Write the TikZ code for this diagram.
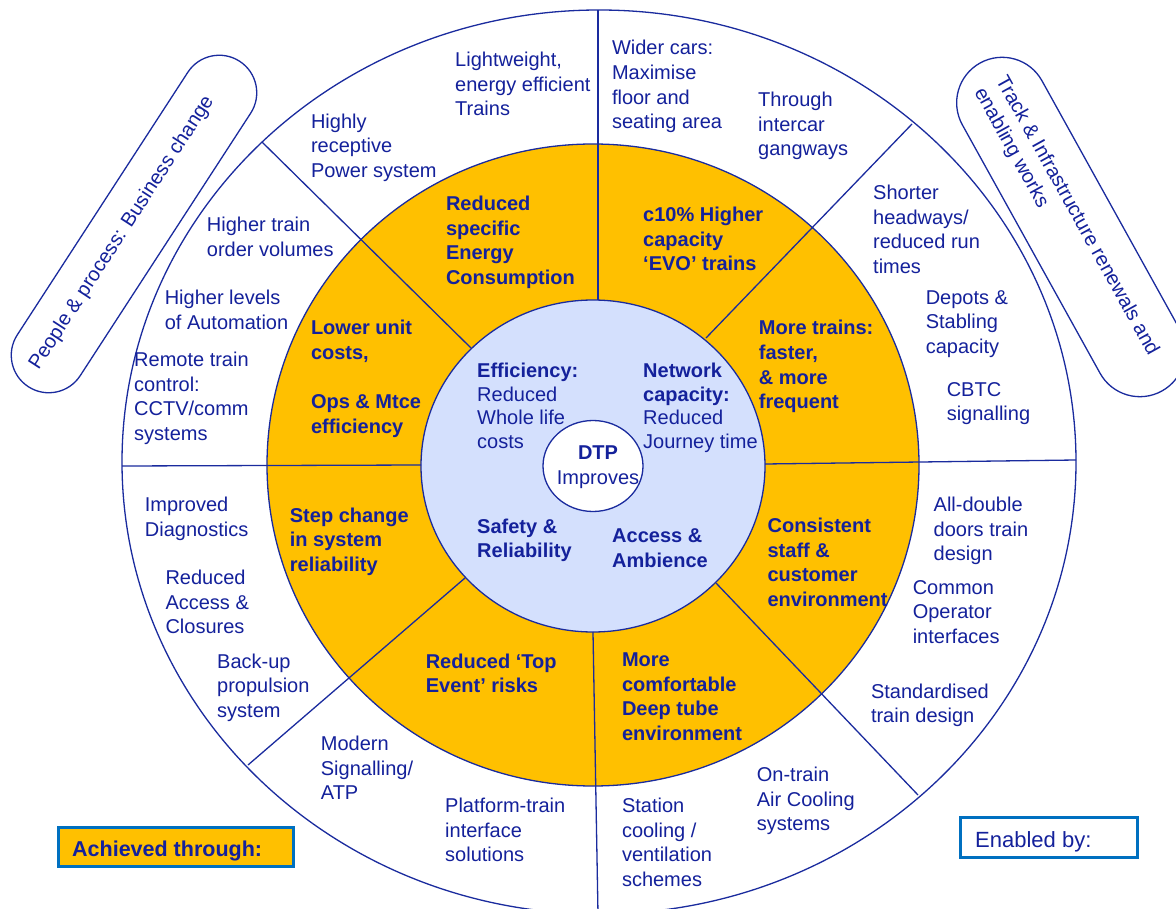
\documentclass[tikz,border=0pt]{standalone}
\usepackage{fontspec}
\setmainfont{Liberation Sans}
\usetikzlibrary{shapes.misc,shapes.geometric}
\definecolor{ringorange}{HTML}{FFC000}
\definecolor{hubblue}{HTML}{D4E0FD}
\definecolor{inkblue}{HTML}{14219B}
\definecolor{rulecol}{HTML}{1A2B9E}
\definecolor{boxblue}{HTML}{0070C0}
\begin{document}
\begin{tikzpicture}[x=1pt,y=-1pt,
  ringline/.style={draw=rulecol, line width=1.3pt},
  note/.style={anchor=north west, inner sep=0pt, align=left, text=inkblue,
    font=\fontsize{20}{24.6}\selectfont},
  keynote/.style={note, font=\fontsize{20}{24.6}\selectfont\bfseries},
  hubnote/.style={note, font=\fontsize{20}{23.8}\selectfont},
  pill/.style={draw=rulecol, line width=1.3pt, rounded rectangle, inner sep=0pt},
  pilltext/.style={inner sep=0pt, align=left, text=inkblue, font=\fontsize{20}{24.6}\selectfont},
  legendbox/.style={draw=boxblue, line width=2.7pt, inner sep=0pt},
]
\useasboundingbox (0,0) rectangle (1176,909);
\clip (0,0) rectangle (1176,909);
\fill[white] (0,0) rectangle (1176,909);

% the three rings of the wheel
\path[ringline, fill=white] (599,462) ellipse [x radius=477, y radius=452];
\path[ringline, fill=ringorange] (593,465) ellipse [x radius=326, y radius=321];
\path[ringline, fill=hubblue] (593,466) ellipse [x radius=172, y radius=166];

% spoke end points: on the hub and on the rim
\coordinate (hubN)  at (598,300);  \coordinate (rimN)  at (598,10);
\coordinate (hubNE) at (706,338);  \coordinate (rimNE) at (912,124);
\coordinate (hubE)  at (765,464);  \coordinate (rimE)  at (1076,460);
\coordinate (hubSE) at (716,583);  \coordinate (rimSE) at (918,795);
\coordinate (hubS)  at (593,632);  \coordinate (rimS)  at (598,914);
\coordinate (hubSW) at (465,578);  \coordinate (rimSW) at (248,765);
\coordinate (hubW)  at (421,465);  \coordinate (rimW)  at (122,466);
\coordinate (hubNW) at (471,348);  \coordinate (rimNW) at (262,142);

\draw[ringline] (hubN) -- (rimN);
\draw[ringline] (hubNE) -- (rimNE);
\draw[ringline] (hubE) -- (rimE);
\draw[ringline] (hubSE) -- (rimSE);
\draw[ringline] (hubS) -- (rimS);
\draw[ringline] (hubSW) -- (rimSW);
\draw[ringline] (hubW) -- (rimW);
\draw[ringline] (hubNW) -- (rimNW);

% centre
\node[draw=rulecol, line width=1.3pt, fill=white, ellipse, inner sep=0pt,
  minimum width=100pt, minimum height=91pt] (dtp) at (593,466) {};
\node[inner sep=0pt, align=center, text=inkblue, anchor=north,
  font=\fontsize{20}{25}\selectfont] (dtptext) at (598,446)
  {\textbf{DTP}\\Improves};

% hub
\node[hubnote] (eff) at (477,362.7) {\textbf{Efficiency:}\\Reduced\\Whole life\\costs};
\node[hubnote] (netcap) at (643,362.7) {\textbf{Network}\\\textbf{capacity:}\\Reduced\\Journey time};
\node[keynote] (safety) at (477,518.7) {Safety \&\\Reliability};
\node[keynote] (access) at (612,528.7) {Access \&\\Ambience};

% benefits ring
\node[keynote] (energy) at (445.8,196) {Reduced\\specific\\Energy\\Consumption};
\node[keynote] (evo) at (643,207) {c10\% Higher\\capacity\\‘EVO’ trains};
\node[keynote] (costs) at (310.8,320.3) {Lower unit\\costs,\\[24.6pt]Ops \& Mtce\\efficiency};
\node[keynote] (moretrains) at (758.7,320.3) {More trains:\\faster,\\\& more\\frequent};
\node[keynote] (stepchange) at (289.7,507.7) {Step change\\in system\\reliability};
\node[keynote] (topevent) at (425.6,653.7) {Reduced ‘Top\\Event’ risks};
\node[keynote] (staff) at (767.4,518) {Consistent\\staff \&\\customer\\environment};
\node[keynote] (comfort) at (621.8,652.7) {More\\comfortable\\Deep tube\\environment};

% means ring
\node[note] (lightweight) at (455,52) {Lightweight,\\energy efficient\\Trains};
\node[note] (receptive) at (310.8,113.7) {Highly\\receptive\\Power system};
\node[note] (widercars) at (611.8,40.3) {Wider cars:\\Maximise\\floor and\\seating area};
\node[note] (gangways) at (758,92) {Through\\intercar\\gangways};
\node[note] (orders) at (206.7,217) {Higher train\\order volumes};
\node[note] (automation) at (164.6,290) {Higher levels\\of Automation};
\node[note] (remote) at (134,352) {Remote train\\control:\\CCTV/comm\\systems};
\node[note] (headways) at (873,185) {Shorter\\headways/\\reduced run\\times};
\node[note] (depots) at (925.6,290) {Depots \&\\Stabling\\capacity};
\node[note] (cbtc) at (946.6,382) {CBTC\\signalling};
\node[note] (diagnostics) at (144.7,497) {Improved\\Diagnostics};
\node[note] (closures) at (165.3,570) {Reduced\\Access \&\\Closures};
\node[note] (backup) at (217,653.7) {Back-up\\propulsion\\system};
\node[note] (atp) at (320.7,736) {Modern\\Signalling/\\ATP};
\node[note] (platform) at (445,798) {Platform-train\\interface\\solutions};
\node[note] (doors) at (933.5,497) {All-double\\doors train\\design};
\node[note] (operator) at (912.6,580) {Common\\Operator\\interfaces};
\node[note] (standard) at (870.8,683.7) {Standardised\\train design};
\node[note] (aircool) at (756.7,767) {On-train\\Air Cooling\\systems};
\node[note] (station) at (621.8,798) {Station\\cooling /\\ventilation\\schemes};

% side banners
\node[pill, minimum width=388pt, minimum height=75pt, rotate=57] (peoplepill) at (134,224) {};
\node[pilltext, rotate=57] (peopletext) at (122,233) {People \& process: Business change};
\node[pill, minimum width=375pt, minimum height=91pt, rotate=-61] (trackpill) at (1071,227) {};
\node[pilltext, rotate=-61] (tracktext) at (1066,222) {Track \& Infrastructure renewals and\\enabling works};

% legend boxes
\node[legendbox, fill=ringorange, minimum width=235.3pt, minimum height=39.3pt] (achbox) at (176,847) {};
\node[inner sep=0pt, anchor=base west, text=inkblue, font=\fontsize{21.5}{25}\selectfont\bfseries]
  (achtext) at (72,856) {Achieved through:};
\node[legendbox, fill=white, minimum width=177.3pt, minimum height=40.3pt] (enbox) at (1049,837.5) {};
\node[inner sep=0pt, anchor=base west, text=inkblue, font=\fontsize{22}{26}\selectfont]
  (entext) at (975,847) {Enabled by:};
\end{tikzpicture}
\end{document}
